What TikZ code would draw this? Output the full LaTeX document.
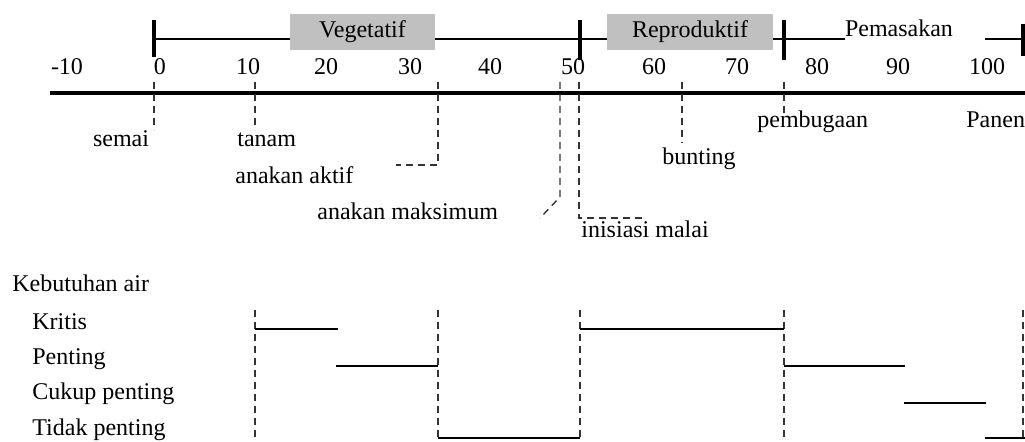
\documentclass[tikz,border=0pt]{standalone}
\usepackage{fontspec}
\setmainfont{Liberation Serif}
\definecolor{boxgray}{RGB}{192,192,192}
\begin{document}
\begin{tikzpicture}[x=0.5pt,y=-0.5pt,
  font=\fontsize{12}{14}\selectfont,
  lbl/.style={inner sep=0pt, anchor=base},
  lblw/.style={inner sep=0pt, anchor=base west},
  phase/.style={fill=boxgray, inner sep=0pt, text height=8.4pt, text depth=3pt, minimum height=18pt},
  bar/.style={line width=1pt},
  tickmark/.style={line width=1.6pt},
  axisline/.style={line width=1.6pt},
  dsh/.style={dash pattern=on 3.5pt off 2.5pt, line width=0.7pt, black!80},
  level/.style={line width=1.3pt}]
\useasboundingbox (0,0) rectangle (1025,442);

% ---- phase bar ----
\node[phase, minimum width=72.5pt] (veg) at (362.5,32) {Vegetatif};
\node[phase, minimum width=83pt] (rep) at (690,32) {Reproduktif};
\node[lbl] (pem) at (899,37) {Pemasakan};
\coordinate (b0) at (154,39);
\coordinate (bs) at (985,39);
\coordinate (be) at (1025,39);
\draw[bar] (b0) -- (veg.west |- b0);
\draw[bar] (veg.east |- b0) -- (rep.west |- b0);
\draw[bar] (rep.east |- b0) -- (pem.west |- b0);
\draw[bar] (bs) -- (be);
\foreach \n/\x/\a/\b in {k0/154/20/57, k50/580/20/60, k76/784/20/60, k100/1023/24/56}{
  \coordinate (\n t) at (\x,\a);
  \coordinate (\n b) at (\x,\b);
  \draw[tickmark] (\n t) -- (\n b);
}

% ---- tick numbers ----
\foreach \v/\x in {-10/67, 0/160, 10/248, 20/326, 30/410, 40/490, 50/573, 60/654, 70/737, 80/817, 90/898, 100/987}{
  \node[lbl] (num\v) at (\x,75) {\v};
}

% ---- axis ----
\coordinate (axL) at (50,93);
\coordinate (axR) at (1025,93);
\draw[axisline] (axL) -- (axR);

% ---- stage labels ----
\node[lbl] (semai) at (121,147) {semai};
\node[lblw] (tanam) at (237,147) {tanam};
\node[lblw] (aktif) at (235,184) {anakan aktif};
\node[lblw] (maks) at (317,220) {anakan maksimum};
\node[lblw] (malai) at (581,238) {inisiasi malai};
\node[lblw] (bunting) at (662,165) {bunting};
\node[lblw] (bugaan) at (757,128) {pembugaan};
\node[lblw] (panen) at (966,128) {Panen};

% ---- dashed stage markers ----
\coordinate (d0a) at (154,82);   \coordinate (d0b) at (154,130);
\coordinate (d10a) at (255,82);  \coordinate (d10b) at (255,130);
\coordinate (d33a) at (438,82);  \coordinate (d33b) at (438,165); \coordinate (d33c) at (396,165);
\coordinate (d48a) at (560,82);  \coordinate (d48b) at (560,197); \coordinate (d48c) at (540,218);
\coordinate (d51a) at (579,82);  \coordinate (d51b) at (579,218); \coordinate (d51c) at (645,218);
\coordinate (d63a) at (682,82);  \coordinate (d63b) at (682,143);
\coordinate (d76a) at (784,82);  \coordinate (d76b) at (784,114);
\draw[dsh] (d0a) -- (d0b);
\draw[dsh] (d10a) -- (d10b);
\draw[dsh] (d33a) -- (d33b) -- (d33c);
\draw[dsh] (d48a) -- (d48b) -- (d48c);
\draw[dsh, line width=1pt] (d51a) -- (d51b) -- (d51c);
\draw[dsh] (d63a) -- (d63b);
\draw[dsh] (d76a) -- (d76b);

% ---- water requirement ----
\node[lblw] (keb) at (12,292) {Kebutuhan air};
\node[lblw] (kritis) at (32,330) {Kritis};
\node[lblw] (penting) at (32,365) {Penting};
\node[lblw] (cukup) at (32,400) {Cukup penting};
\node[lblw] (tidak) at (32,436) {Tidak penting};

\foreach \n/\x in {v10/255, v33/438, v51/580, v76/784, v100/1023}{
  \coordinate (\n t) at (\x,310);
  \coordinate (\n b) at (\x,440);
  \draw[dsh] (\n t) -- (\n b);
}

\coordinate (r1a) at (255,329); \coordinate (r1b) at (338,329);
\coordinate (r2a) at (336,366); \coordinate (r2b) at (438,366);
\coordinate (r3a) at (438,438); \coordinate (r3b) at (580,438);
\coordinate (r4a) at (580,329); \coordinate (r4b) at (784,329);
\coordinate (r5a) at (784,366); \coordinate (r5b) at (905,366);
\coordinate (r6a) at (904,403); \coordinate (r6b) at (986,403);
\coordinate (r7a) at (985,438); \coordinate (r7b) at (1025,438);
\foreach \n in {r1,r2,r3,r4,r5,r6,r7}{
  \draw[level] (\n a) -- (\n b);
}
\end{tikzpicture}
\end{document}
